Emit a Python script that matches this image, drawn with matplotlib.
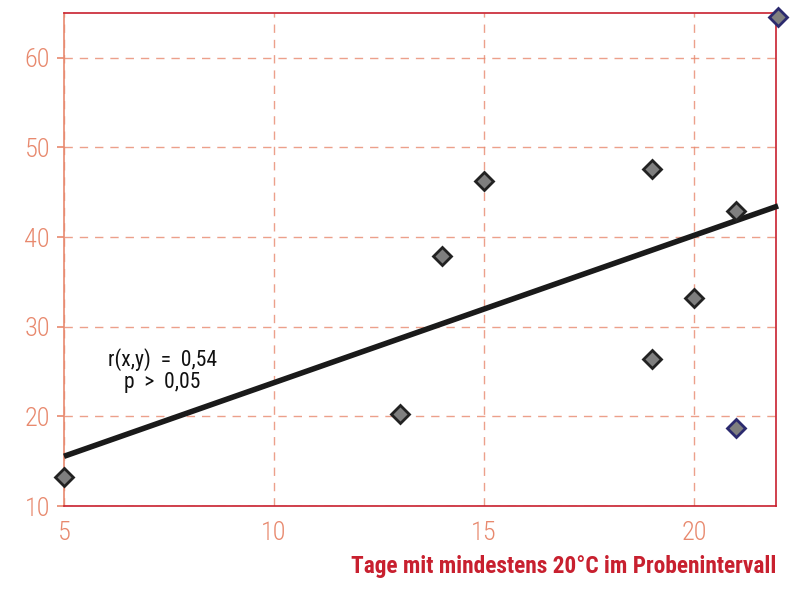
import numpy as np
import matplotlib.pyplot as plt
from matplotlib import font_manager

days = [5, 13, 14, 15, 19, 19, 20, 21, 21, 22]
values = [13.2, 20.3, 37.9, 46.3, 47.6, 26.4, 33.2, 42.9, 18.7, 64.5]
edge_kind = ["dark", "dark", "dark", "dark", "dark", "dark", "dark", "dark", "blue", "blue"]
x_ticks = [5, 10, 15, 20]
y_ticks = [10, 20, 30, 40, 50, 60]

SALMON = "#e8896e"
RED = "#c8202f"
names = {f.name for f in font_manager.fontManager.ttflist}
FONT = [n for n in ["Roboto Condensed", "Liberation Sans Narrow", "Roboto"] if n in names] + ["DejaVu Sans"]
plt.rcParams["font.family"] = FONT

fig = plt.figure(figsize=(8.07, 5.89), dpi=100)
ax = fig.add_axes([0.0793, 0.1409, 0.8823, 0.837])

ax.set_xlim(5, 21.95)
ax.set_ylim(10, 65)
ax.set_xticks(x_ticks)
ax.set_yticks(y_ticks)

ax.grid(True, color=SALMON, linestyle=(0, (6, 5)), linewidth=1, alpha=0.8)
ax.set_axisbelow(True)

# regression line
slope, icpt = np.polyfit(days, values, 1)
xs = np.array([5, 22])
ax.plot(xs, slope * xs + icpt, color="#1a1a1a", linewidth=4, solid_capstyle="butt",
        clip_on=False, zorder=3)

for x, y, k in zip(days, values, edge_kind):
    ec = "#2b2a6e" if k == "blue" else "#222222"
    ax.plot(x, y, marker="D", markersize=9, markerfacecolor="#7f7f7f",
            markeredgecolor=ec, markeredgewidth=2, linestyle="none",
            clip_on=False, zorder=4)

for side in ["top", "right", "bottom"]:
    ax.spines[side].set_color(RED)
    ax.spines[side].set_linewidth(1.2)
ax.spines["left"].set_color(SALMON)
ax.spines["left"].set_linewidth(1.2)

ax.tick_params(axis="y", colors=SALMON, labelsize=19, length=5, width=1.2, pad=5)
ax.tick_params(axis="x", colors=SALMON, labelsize=19, length=0, pad=11)
for lab in ax.get_xticklabels() + ax.get_yticklabels():
    lab.set_fontweight("light")

ax.text(0.138, 0.275, "r(x,y)  =  0,54\np  >  0,05", transform=ax.transAxes,
        ha="center", va="center", fontsize=15.5, color="#111111", linespacing=1.05)

fig.text(0.9616, 0.018, "Tage mit mindestens 20°C im Probenintervall", ha="right",
         va="bottom", fontsize=16.8, fontweight="bold", color=RED)

fig.savefig("out.png", dpi=100)
